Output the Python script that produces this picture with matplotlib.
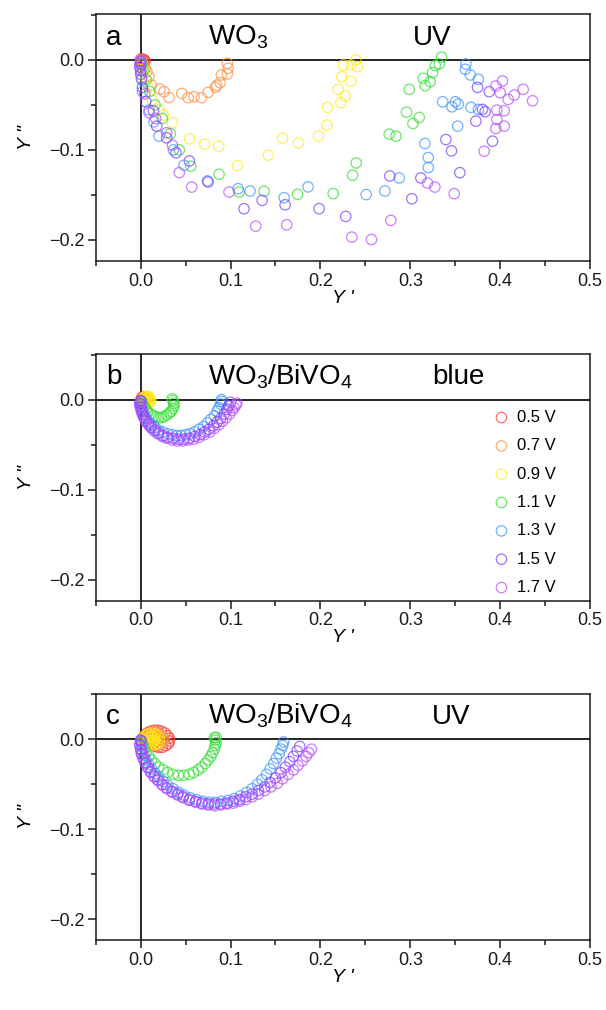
import matplotlib
matplotlib.use("Agg")
import matplotlib.pyplot as plt
from matplotlib.ticker import MultipleLocator

plt.rcParams['font.family'] = ['Liberation Sans', 'DejaVu Sans']
plt.rcParams['mathtext.fontset'] = 'custom'
plt.rcParams['mathtext.rm'] = 'Liberation Sans'
plt.rcParams['mathtext.it'] = 'Liberation Sans:italic'

labels = ['0.5 V', '0.7 V', '0.9 V', '1.1 V', '1.3 V', '1.5 V', '1.7 V']
colors = ['#ff3333', '#ff8c42', '#ffe81a', '#33dd33', '#3d94ff', '#7a3dff', '#b84dff']

# ---------------- panel a : WO3, UV ----------------
a_05_x = [0.000, 0.002, 0.004, 0.005, 0.003]
a_05_y = [0.001, 0.001, 0.000, -0.001, -0.002]
a_07_x = [0.000, 0.001, 0.003, 0.005, 0.007, 0.0093, 0.0119, 0.0215, 0.0260, 0.0316, 0.0457, 0.0527, 0.0594,
          0.0676, 0.0750, 0.0832, 0.0846, 0.0883, 0.0898, 0.0965, 0.0973, 0.0965]
a_07_y = [0.000, -0.002, -0.005, -0.009, -0.013, -0.0186, -0.0279, -0.0323, -0.0353, -0.0420, -0.0372, -0.0420,
          -0.0409, -0.0420, -0.0361, -0.0305, -0.0282, -0.0253, -0.0167, -0.0156, -0.0093, -0.0037]
a_09_x = [0.001, 0.003, 0.006, 0.009, 0.0130, 0.0204, 0.0252, 0.0353, 0.0542, 0.0713, 0.0869, 0.1076, 0.1422,
          0.1578, 0.1756, 0.1979, 0.2071, 0.2079, 0.2227, 0.2275, 0.2197, 0.2339, 0.2238, 0.2257, 0.2339, 0.2413,
          0.2394]
a_09_y = [-0.003, -0.010, -0.020, -0.030, -0.0446, -0.0557, -0.0613, -0.0699, -0.0877, -0.0936, -0.0959, -0.1174,
          -0.1059, -0.0870, -0.0922, -0.0847, -0.0725, -0.0527, -0.0476, -0.0401, -0.0327, -0.0238, -0.0186,
          -0.0056, -0.0056, -0.0075, 0.000]
a_11_x = [0.001, 0.003, 0.006, 0.010, 0.016, 0.024, 0.033, 0.043, 0.0557, 0.0872, 0.1095, 0.1373, 0.1745, 0.2142,
          0.2357, 0.2398, 0.2765, 0.2840, 0.2958, 0.3029, 0.3099, 0.2988, 0.3144, 0.3166, 0.3222, 0.3248, 0.3278,
          0.3322, 0.3348]
a_11_y = [-0.004, -0.012, -0.022, -0.035, -0.050, -0.065, -0.082, -0.100, -0.1182, -0.1271, -0.1468, -0.1460,
          -0.1494, -0.1486, -0.1282, -0.1145, -0.0825, -0.0847, -0.0580, -0.0706, -0.0639, -0.0327, -0.0204,
          -0.0286, -0.0242, -0.0141, -0.0063, -0.0045, 0.0030]
a_13_x = [0.000, 0.000, 0.001, 0.0019, 0.0093, 0.0148, 0.0204, 0.0364, 0.0482, 0.0742, 0.1084, 0.1217, 0.1596,
          0.1863, 0.2509, 0.2717, 0.2877, 0.3200, 0.3200, 0.3163, 0.3527, 0.3360, 0.3463, 0.3500, 0.3534, 0.3675,
          0.3757, 0.3757, 0.3667, 0.3612, 0.3619]
a_13_y = [-0.004, -0.012, -0.022, -0.0353, -0.0557, -0.0688, -0.0847, -0.100, -0.1171, -0.1345, -0.1431, -0.1457,
          -0.1531, -0.1412, -0.1497, -0.1457, -0.1312, -0.1196, -0.1085, -0.0929, -0.0736, -0.0465, -0.0521,
          -0.0465, -0.0491, -0.0527, -0.0550, -0.0215, -0.0167, -0.0104, -0.0045]
a_15_x = [0.000, -0.001, 0.000, 0.0019, 0.0056, 0.0141, 0.0178, 0.0289, 0.0393, 0.0542, 0.0750, 0.1150, 0.1351,
          0.1607, 0.1985, 0.2282, 0.2772, 0.3017, 0.3117, 0.3551, 0.3458, 0.3395, 0.3915, 0.3729, 0.3833, 0.3803,
          0.3878, 0.3748]
a_15_y = [-0.002, -0.008, -0.016, -0.0305, -0.0465, -0.0565, -0.0736, -0.0866, -0.1033, -0.1123, -0.1357, -0.1654,
          -0.1561, -0.1610, -0.1654, -0.1740, -0.1290, -0.1543, -0.1312, -0.1253, -0.1011, -0.0885, -0.0903,
          -0.0680, -0.0576, -0.0550, -0.0353, -0.0305]
a_17_x = [0.000, -0.001, 0.000, 0.001, 0.0045, 0.0093, 0.0167, 0.0289, 0.0353, 0.0430, 0.0568, 0.0983, 0.1280,
          0.1625, 0.2349, 0.2568, 0.2783, 0.3191, 0.3273, 0.3488, 0.3822, 0.3952, 0.4045, 0.3963, 0.3963, 0.4045,
          0.4000, 0.4089, 0.4156, 0.4256, 0.4360, 0.3952, 0.4026]
a_17_y = [-0.001, -0.005, -0.012, -0.020, -0.0379, -0.0587, -0.0651, -0.0810, -0.0948, -0.1253, -0.1413, -0.1468,
          -0.1848, -0.1833, -0.1970, -0.1996, -0.1784, -0.1368, -0.1413, -0.1487, -0.1015, -0.0762, -0.0736,
          -0.0662, -0.0558, -0.0565, -0.0364, -0.0439, -0.0390, -0.0327, -0.0454, -0.0290, -0.0234]

# ---------------- panel b : WO3/BiVO4, blue ----------------
b_05_x = [0.001, 0.002, 0.003, 0.004, 0.003]
b_05_y = [0.002, 0.003, 0.002, 0.001, 0.000]
b_07_x = [0.002, 0.004, 0.006, 0.007, 0.006, 0.004]
b_07_y = [0.002, 0.003, 0.002, 0.000, -0.001, -0.001]
b_09_x = [0.002, 0.003, 0.005, 0.007, 0.009, 0.010, 0.011, 0.011, 0.010, 0.008, 0.006, 0.005, 0.006, 0.008]
b_09_y = [0.000, 0.002, 0.003, 0.004, 0.003, 0.002, 0.000, -0.002, -0.003, -0.004, -0.003, -0.001, 0.001, 0.001]
b_11_x = [0.001, 0.002, 0.004, 0.006, 0.008, 0.011, 0.014, 0.017, 0.020, 0.023, 0.026, 0.029, 0.032, 0.034,
          0.036, 0.037, 0.037, 0.036, 0.035]
b_11_y = [-0.002, -0.005, -0.008, -0.011, -0.014, -0.016, -0.018, -0.019, -0.020, -0.020, -0.019, -0.017,
          -0.015, -0.013, -0.010, -0.007, -0.004, -0.001, 0.001]
b_13_x = [0.000, 0.000, 0.001, 0.002, 0.004, 0.006, 0.009, 0.012, 0.016, 0.020, 0.025, 0.030, 0.035, 0.040,
          0.045, 0.050, 0.055, 0.060, 0.065, 0.070, 0.074, 0.078, 0.082, 0.085, 0.087, 0.089, 0.090, 0.090]
b_13_y = [-0.002, -0.005, -0.009, -0.013, -0.017, -0.021, -0.025, -0.028, -0.031, -0.034, -0.036, -0.038,
          -0.039, -0.040, -0.040, -0.039, -0.038, -0.036, -0.033, -0.030, -0.026, -0.022, -0.018, -0.013,
          -0.009, -0.005, -0.002, 0.000]
b_15_x = [0.000, -0.001, 0.000, 0.001, 0.002, 0.004, 0.006, 0.009, 0.012, 0.016, 0.020, 0.025, 0.030, 0.036,
          0.042, 0.048, 0.054, 0.060, 0.066, 0.071, 0.076, 0.081, 0.085, 0.089, 0.093, 0.096, 0.098, 0.100]
b_15_y = [-0.001, -0.004, -0.008, -0.012, -0.016, -0.020, -0.024, -0.028, -0.031, -0.034, -0.037, -0.040,
          -0.042, -0.043, -0.044, -0.044, -0.043, -0.041, -0.039, -0.036, -0.033, -0.029, -0.025, -0.021,
          -0.016, -0.011, -0.007, -0.003]
b_17_x = [0.000, -0.001, 0.000, 0.001, 0.003, 0.005, 0.008, 0.011, 0.015, 0.019, 0.024, 0.029, 0.035, 0.041,
          0.047, 0.053, 0.059, 0.065, 0.071, 0.077, 0.082, 0.087, 0.091, 0.095, 0.099, 0.102, 0.104, 0.106, 0.107]
b_17_y = [-0.002, -0.006, -0.010, -0.014, -0.019, -0.023, -0.027, -0.031, -0.035, -0.038, -0.041, -0.043,
          -0.045, -0.046, -0.046, -0.045, -0.044, -0.042, -0.039, -0.036, -0.032, -0.028, -0.024, -0.020,
          -0.016, -0.012, -0.009, -0.006, -0.004]

# ---------------- panel c : WO3/BiVO4, UV ----------------
c_05_x = [0.002, 0.004, 0.007, 0.011, 0.015, 0.019, 0.023, 0.027, 0.030, 0.032, 0.032, 0.031, 0.028, 0.024,
          0.020, 0.016, 0.013, 0.011, 0.011, 0.013, 0.016, 0.019, 0.021, 0.020]
c_05_y = [0.001, 0.004, 0.007, 0.009, 0.010, 0.010, 0.009, 0.007, 0.004, 0.001, -0.002, -0.005, -0.007, -0.009,
          -0.009, -0.008, -0.006, -0.003, 0.000, 0.002, 0.003, 0.002, 0.000, -0.002]
c_07_x = [0.003, 0.006, 0.010, 0.014, 0.018, 0.022, 0.025, 0.026, 0.025, 0.022, 0.018, 0.014, 0.012, 0.012, 0.014]
c_07_y = [0.002, 0.005, 0.007, 0.008, 0.008, 0.006, 0.003, 0.000, -0.003, -0.006, -0.007, -0.006, -0.003,
          0.000, 0.002]
c_09_x = [0.003, 0.005, 0.008, 0.012, 0.016, 0.019, 0.021, 0.021, 0.019, 0.016, 0.012, 0.009, 0.008, 0.009,
          0.012, 0.015, 0.016, 0.015, 0.013]
c_09_y = [0.001, 0.004, 0.006, 0.007, 0.006, 0.004, 0.001, -0.002, -0.005, -0.006, -0.006, -0.004, -0.001,
          0.002, 0.003, 0.002, 0.000, -0.002, -0.003]
c_11_x = [0.001, 0.002, 0.004, 0.006, 0.009, 0.012, 0.016, 0.020, 0.025, 0.030, 0.036, 0.042, 0.048, 0.054,
          0.059, 0.064, 0.068, 0.072, 0.075, 0.078, 0.080, 0.082, 0.083, 0.084, 0.083, 0.082, 0.084]
c_11_y = [-0.002, -0.006, -0.010, -0.015, -0.019, -0.023, -0.027, -0.031, -0.034, -0.037, -0.039, -0.040,
          -0.040, -0.039, -0.037, -0.034, -0.031, -0.027, -0.023, -0.019, -0.015, -0.011, -0.007, -0.004,
          -0.001, 0.002, 0.002]
c_13_x = [0.000, 0.001, 0.002, 0.004, 0.006, 0.009, 0.012, 0.016, 0.020, 0.025, 0.030, 0.036, 0.042, 0.048,
          0.055, 0.062, 0.069, 0.076, 0.083, 0.090, 0.097, 0.104, 0.111, 0.118, 0.124, 0.130, 0.135, 0.140,
          0.144, 0.148, 0.151, 0.154, 0.156, 0.158, 0.159]
c_13_y = [-0.003, -0.008, -0.013, -0.018, -0.023, -0.028, -0.033, -0.038, -0.042, -0.047, -0.051, -0.055,
          -0.059, -0.062, -0.065, -0.067, -0.069, -0.070, -0.070, -0.069, -0.068, -0.066, -0.063, -0.059,
          -0.055, -0.050, -0.045, -0.039, -0.033, -0.027, -0.021, -0.016, -0.011, -0.007, -0.003]
c_15_x = [0.000, -0.001, 0.000, 0.001, 0.003, 0.005, 0.008, 0.011, 0.015, 0.019, 0.024, 0.029, 0.035, 0.041,
          0.047, 0.054, 0.061, 0.068, 0.075, 0.082, 0.089, 0.096, 0.103, 0.110, 0.117, 0.124, 0.131, 0.138,
          0.144, 0.150, 0.156, 0.161, 0.166, 0.170, 0.174, 0.177]
c_15_y = [-0.001, -0.006, -0.011, -0.016, -0.021, -0.026, -0.031, -0.036, -0.041, -0.045, -0.050, -0.054,
          -0.058, -0.061, -0.064, -0.067, -0.069, -0.071, -0.072, -0.072, -0.072, -0.071, -0.069, -0.067,
          -0.064, -0.061, -0.057, -0.053, -0.048, -0.043, -0.037, -0.031, -0.025, -0.019, -0.013, -0.008]
c_17_x = [0.000, -0.001, 0.000, 0.001, 0.003, 0.005, 0.008, 0.011, 0.015, 0.019, 0.024, 0.029, 0.035, 0.041,
          0.047, 0.054, 0.061, 0.068, 0.075, 0.082, 0.089, 0.096, 0.103, 0.110, 0.117, 0.124, 0.131, 0.138,
          0.145, 0.152, 0.158, 0.164, 0.170, 0.175, 0.180, 0.184, 0.187, 0.190]
c_17_y = [-0.002, -0.007, -0.012, -0.017, -0.022, -0.027, -0.032, -0.037, -0.042, -0.046, -0.051, -0.055,
          -0.059, -0.062, -0.065, -0.068, -0.070, -0.072, -0.073, -0.074, -0.073, -0.072, -0.071, -0.069,
          -0.067, -0.064, -0.061, -0.057, -0.053, -0.049, -0.044, -0.039, -0.034, -0.029, -0.024, -0.019,
          -0.015, -0.011]

panels = [
    dict(tag='a', material='WO$_3$', light='UV', light_x=0.303,
         xs=[a_05_x, a_07_x, a_09_x, a_11_x, a_13_x, a_15_x, a_17_x],
         ys=[a_05_y, a_07_y, a_09_y, a_11_y, a_13_y, a_15_y, a_17_y]),
    dict(tag='b', material='WO$_3$/BiVO$_4$', light='blue', light_x=0.324,
         xs=[b_05_x, b_07_x, b_09_x, b_11_x, b_13_x, b_15_x, b_17_x],
         ys=[b_05_y, b_07_y, b_09_y, b_11_y, b_13_y, b_15_y, b_17_y]),
    dict(tag='c', material='WO$_3$/BiVO$_4$', light='UV', light_x=0.324,
         xs=[c_05_x, c_07_x, c_09_x, c_11_x, c_13_x, c_15_x, c_17_x],
         ys=[c_05_y, c_07_y, c_09_y, c_11_y, c_13_y, c_15_y, c_17_y]),
]


def fmt(v, _):
    if abs(v) < 1e-9:
        return '0.0'
    return f'{v:.1f}'.replace('-', '\u2212')


fig = plt.figure(figsize=(6.06, 10.10), dpi=100)
bottoms = [0.7416, 0.4053, 0.0690]
for p, bot in zip(panels, bottoms):
    ax = fig.add_axes([0.158, bot, 0.8157, 0.2443])
    for xs, ys, col, lab in zip(p['xs'], p['ys'], colors, labels):
        ax.scatter(xs, ys, s=56, facecolors='none', edgecolors=col, linewidths=0.9,
                   alpha=0.72, label=lab, zorder=3)
    ax.axhline(0, color='black', lw=1.2, zorder=2)
    ax.axvline(0, color='black', lw=1.2, zorder=2)
    ax.set_xlim(-0.05, 0.5)
    ax.set_ylim(-0.2235, 0.0508)
    ax.xaxis.set_major_locator(MultipleLocator(0.1))
    ax.xaxis.set_minor_locator(MultipleLocator(0.05))
    ax.yaxis.set_major_locator(MultipleLocator(0.1))
    ax.yaxis.set_minor_locator(MultipleLocator(0.05))
    ax.xaxis.set_major_formatter(plt.FuncFormatter(fmt))
    ax.yaxis.set_major_formatter(plt.FuncFormatter(fmt))
    ax.tick_params(which='both', direction='out', top=False, right=False, width=1.1,
                   labelsize=13, colors='#1a1a1a')
    ax.tick_params(which='major', length=5.8, pad=2.5)
    ax.tick_params(which='minor', length=3.3)
    for sp in ax.spines.values():
        sp.set_linewidth(1.1)
        sp.set_color('#1a1a1a')
    ax.set_xlabel("Y '", fontsize=14, style='italic', labelpad=0)
    ax.set_ylabel('Y "', fontsize=14, style='italic', labelpad=10)
    ax.text(-0.0385, 0.017, p['tag'], fontsize=20, va='baseline', ha='left')
    ax.text(0.0745, 0.017, p['material'], fontsize=20, va='baseline', ha='left')
    ax.text(p['light_x'], 0.017, p['light'], fontsize=20, va='baseline', ha='left')
    if p['tag'] == 'b':
        ax.legend(loc='upper left', bbox_to_anchor=(0.787, 0.80), frameon=False, fontsize=12,
                  handletextpad=0.35, labelspacing=0.8, borderaxespad=0, handlelength=1.2,
                  scatterpoints=1)

fig.savefig('out.png', dpi=100)
